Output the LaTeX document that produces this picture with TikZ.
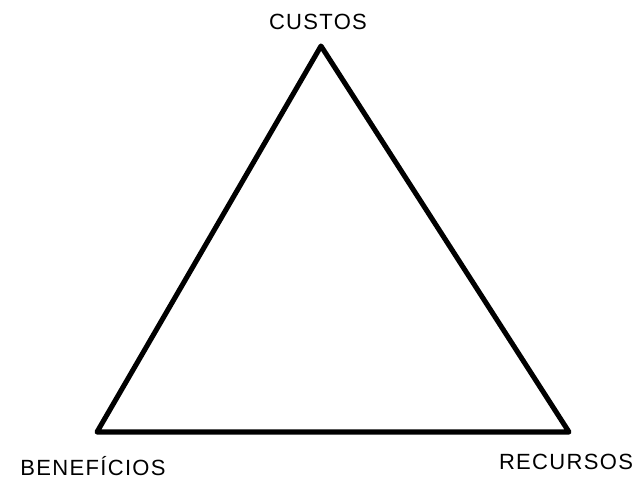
\documentclass[tikz,border=0pt]{standalone}
\usepackage{fontspec}
\setmainfont{Liberation Sans}[LetterSpace=6]
\usetikzlibrary{positioning}

\begin{document}
\begin{tikzpicture}[
  x=0.75pt, y=-0.75pt,
  side/.style={draw=black, line width=3.8pt, line join=round},
  lbl/.style={font=\fontsize{16.5}{18}\selectfont, inner sep=0pt, anchor=center}
]
\useasboundingbox (0,0) rectangle (639,480);

\coordinate (top) at (321,46);
\coordinate (left) at (97,432);
\coordinate (right) at (569,432);

\node[lbl] (custos) at (318,22) {CUSTOS};
\node[lbl] (beneficios) at (93,466) {BENEFÍCIOS};
\node[lbl] (recursos) at (566,462) {RECURSOS};

% the triangle
\draw[side] (top) -- (right) -- (left) -- cycle;

\end{tikzpicture}
\end{document}
